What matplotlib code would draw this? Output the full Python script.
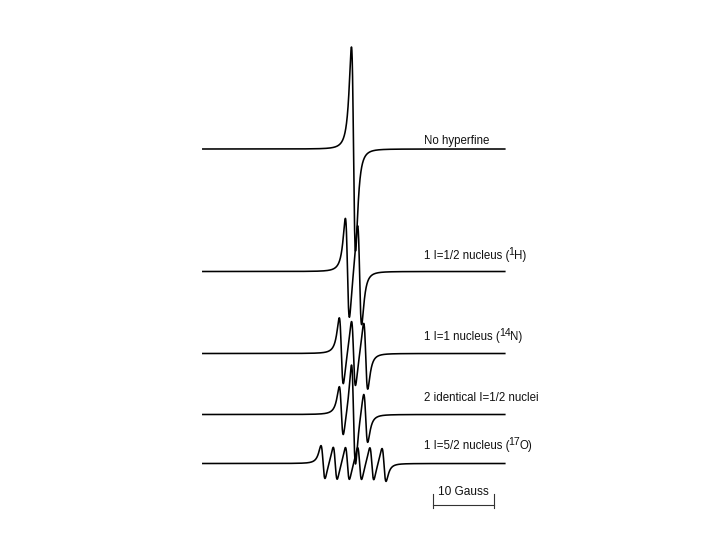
import matplotlib
matplotlib.use("Agg")
import matplotlib.pyplot as plt
import numpy as np
from matplotlib.font_manager import FontProperties
from matplotlib.transforms import offset_copy

plt.rcParams['font.family'] = ['Liberation Sans', 'DejaVu Sans']

# labels split into (text, superscript, text) pieces
labels = [("No hyperfine", "", ""),
          ("1 I=1/2 nucleus (", "1", "H)"),
          ("1 I=1 nucleus (", "14", "N)"),
          ("2 identical I=1/2 nuclei", "", ""),
          ("1 I=5/2 nucleus (", "17", "O)")]
# hyperfine line positions (Gauss) and relative intensities
positions = [[0.0],
             [-1.0, 1.0],
             [-2.0, 0.0, 2.0],
             [-2.0, 0.0, 2.0],
             [-5.0, -3.0, -1.0, 1.0, 3.0, 5.0]]
intensities = [[1.0],
               [0.5, 0.5],
               [1/3, 1/3, 1/3],
               [0.25, 0.5, 0.25],
               [1/6] * 6]

# layout
baselines = [3.91, 2.685, 1.865, 1.255, 0.765]
label_y = [3.96, 2.81, 2.00, 1.39, 0.91]   # text baselines
width = 0.58           # Lorentzian half width, Gauss
amp = 1.02
field = np.linspace(-24.7, 24.8, 4000)
fs = 8.3
sup_fs = 7.6


def deriv_lorentz(b, b0):
    x = b - b0
    f = -x / (width**2 + x**2) ** 2
    peak = 9 / (16 * np.sqrt(3) * width**3)
    return f / peak


fig = plt.figure(figsize=(7.2, 5.4), dpi=100)
ax = fig.add_axes([0, 0, 1, 1])
renderer = fig.canvas.get_renderer()


def text_w(s, size):
    w, h, d = renderer.get_text_width_height_descent(
        s, FontProperties(family="Liberation Sans", size=size), ismath=False)
    return w * 72 / fig.dpi


for lab, pos, inten, base, ly in zip(labels, positions, intensities, baselines, label_y):
    spec = np.zeros_like(field)
    for p, i in zip(pos, inten):
        spec += i * deriv_lorentz(field, p)
    ax.plot(field, base + amp * spec, color="black", lw=1.15)

    ax.text(11.6, ly, lab[0], fontsize=fs, color="#111111", va="baseline", ha="left")
    if lab[1]:
        w0 = text_w(lab[0], fs) - 0.9
        w1 = text_w(lab[1], sup_fs) - 0.3
        tr_sup = offset_copy(ax.transData, fig=fig, x=w0, y=3.0, units="points")
        tr_end = offset_copy(ax.transData, fig=fig, x=w0 + w1, y=0, units="points")
        ax.text(11.6, ly, lab[1], fontsize=sup_fs, color="#111111",
                va="baseline", ha="left", transform=tr_sup)
        ax.text(11.6, ly, lab[2], fontsize=fs, color="#111111",
                va="baseline", ha="left", transform=tr_end)

# 10 Gauss scale bar
x0 = 13.03
ax.plot([x0, x0 + 10], [0.35, 0.35], color="#333333", lw=0.8)
ax.plot([x0, x0], [0.32, 0.46], color="#333333", lw=0.8)
ax.plot([x0 + 10, x0 + 10], [0.32, 0.46], color="#333333", lw=0.8)
ax.text(x0 + 5, 0.48, "10 Gauss", fontsize=8.6, color="#111111", ha="center", va="center")

ax.set_xlim(-57.95, 60.08)
ax.set_ylim(0, 5.4)
ax.axis("off")

fig.savefig("out.png", dpi=100)
